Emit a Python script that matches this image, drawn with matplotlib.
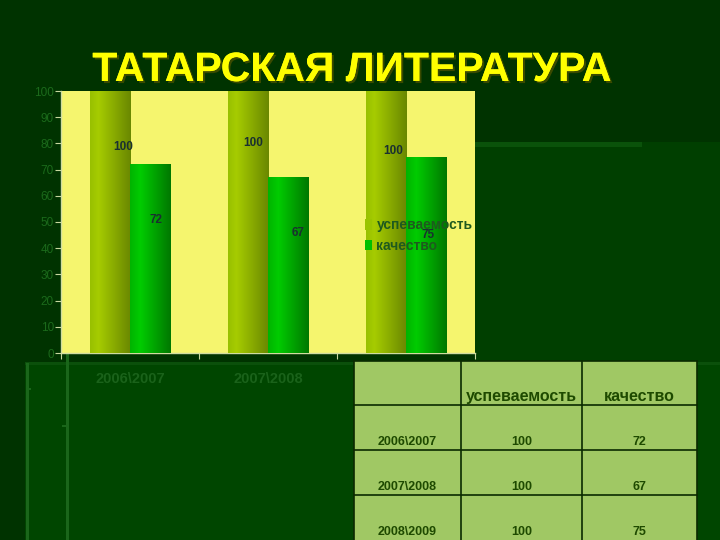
import numpy as np
import matplotlib
matplotlib.use("Agg")
import matplotlib.pyplot as plt
from matplotlib.patches import Rectangle
from matplotlib.colors import LinearSegmentedColormap
import matplotlib.patheffects as pe

# ---------------- data ----------------
title = "ТАТАРСКАЯ ЛИТЕРАТУРА"
categories = ["2006\\2007", "2007\\2008", "2008\\2009"]
series_names = ["успеваемость", "качество"]
uspev = [100, 100, 100]
kach = [72, 67, 75]
yticks = [0, 10, 20, 30, 40, 50, 60, 70, 80, 90, 100]

# ---------------- layout / style ----------------
W, H = 720, 540
DPI = 100
BG_TOP = "#003300"
BG_LOW = "#004600"
BG_RIGHT = "#003f00"
PLOT_BG = "#f5f56e"
TICK_COL = "#1b6a1b"
LABEL_COL = "#1a3030"
font = ["Liberation Sans", "DejaVu Sans"]

# data-label placement (y in data units, x offset in category units)
lab_u_y = [78.6, 80.2, 77.1]
lab_k_y = [50.8, 45.8, 45.0]
lab_u_dx = [-0.05, -0.11, -0.095]
lab_k_dx = [0.185, 0.217, 0.163]

fig = plt.figure(figsize=(W / DPI, H / DPI), dpi=DPI)
fig.patch.set_facecolor(BG_TOP)


def px_rect(x0, y0, x1, y1, color, z=-5):
    fig.patches.append(Rectangle((x0 / W, 1 - y1 / H), (x1 - x0) / W, (y1 - y0) / H,
                                 transform=fig.transFigure, facecolor=color,
                                 edgecolor="none", zorder=z))


# slide background pieces
px_rect(475, 142, 720, 540, BG_RIGHT)
px_rect(475, 142, 642, 147, "#0a520a")
px_rect(25, 362, 720, 540, BG_LOW)
px_rect(25, 362, 720, 365, "#0b500b")
px_rect(26, 363, 29, 540, "#1a661a")
px_rect(66, 353, 69, 540, "#1a661a")
px_rect(26, 388, 31, 390, "#1a661a")
px_rect(62, 425, 69, 427, "#1a661a")

# title
fig.text(352 / W, 1 - 81 / H, title, fontsize=29.5, fontweight="bold", color="#ffff00",
         ha="center", va="baseline", family=font,
         path_effects=[pe.withSimplePatchShadow(offset=(1.5, -1.5), shadow_rgbFace="#3a4a00", alpha=1.0),
                       pe.Normal()])

# ---------------- chart ----------------
ax = fig.add_axes([61 / W, 1 - 353 / H, 414 / W, 262 / H])
ax.set_facecolor(PLOT_BG)

x = np.arange(len(categories))
bw = 0.29
b1 = ax.bar(x - bw / 2, uspev, width=bw, color="#9ac400", zorder=2, label=series_names[0])
b2 = ax.bar(x + bw / 2, kach, width=bw, color="#00c000", zorder=2, label=series_names[1])

cm_u = LinearSegmentedColormap.from_list("u", [(0, "#98c000"), (0.2, "#a6cc00"), (1, "#6a8800")])
cm_k = LinearSegmentedColormap.from_list("k", [(0, "#00b400"), (0.25, "#00cc00"), (1, "#007800")])
grad = np.linspace(0, 1, 64).reshape(1, -1)
for bars, cm in ((b1, cm_u), (b2, cm_k)):
    for r in bars:
        x0, y0 = r.get_x(), r.get_y()
        im = ax.imshow(grad, cmap=cm, aspect="auto", zorder=3,
                       extent=(x0, x0 + r.get_width(), y0, y0 + r.get_height()))
        im.set_clip_path(r)
ax.set_xlim(-0.5, 2.5)
ax.set_ylim(0, 100)

for i in range(len(categories)):
    ax.text(x[i] + lab_u_dx[i], lab_u_y[i], str(uspev[i]),
            ha="center", va="center", fontsize=8.5, fontweight="bold", color=LABEL_COL,
            family=font, zorder=5)
    ax.text(x[i] + lab_k_dx[i], lab_k_y[i], str(kach[i]),
            ha="center", va="center", fontsize=8.5, fontweight="bold", color=LABEL_COL,
            family=font, zorder=5)

ax.set_yticks(yticks)
ax.set_yticklabels([str(v) for v in yticks], fontsize=8.5, color=TICK_COL, family=font)
ax.tick_params(axis="y", length=4, width=0.8, color="#c8d8a0", pad=1)
ax.set_xticks(x)
ax.set_xticklabels(categories, fontsize=10.5, fontweight="bold", color="#1a621a", family=font)
ax.tick_params(axis="x", length=0, pad=14)
ax.set_xticks([-0.5, 0.5, 1.5, 2.5], minor=True)
ax.tick_params(axis="x", which="minor", length=4, width=0.8, color="#c8d8a0", direction="out")
for s in ("top", "right"):
    ax.spines[s].set_visible(False)
for s in ("left", "bottom"):
    ax.spines[s].set_color("#d0dca0")
    ax.spines[s].set_linewidth(1.0)

leg = ax.legend(loc="upper left", bbox_to_anchor=(0.72, 0.535), frameon=False,
                handlelength=0.55, handleheight=0.75, handletextpad=0.3, labelspacing=0.45,
                borderaxespad=0, prop={"family": font, "size": 10, "weight": "bold"})
for t in leg.get_texts():
    t.set_color("#1e5a1e")
leg.set_zorder(6)

# ---------------- table ----------------
tx0, tx1, ty0, ty1 = 354, 697, 361, 540
tab = fig.add_axes([tx0 / W, 1 - ty1 / H, (tx1 - tx0) / W, (ty1 - ty0) / H])
tab.set_zorder(10)
tab.set_xlim(tx0, tx1)
tab.set_ylim(ty1, ty0)
tab.axis("off")
col_edges = [354, 461, 582, 697]
row_edges = [361, 405, 450, 495, 540]
TAB_FILL = "#a0c864"
TXT = "#1e4a00"
tab.add_patch(Rectangle((tx0, ty0), tx1 - tx0, ty1 - ty0, facecolor=TAB_FILL,
                        edgecolor="none", zorder=1))
for cx in col_edges:
    tab.plot([cx, cx], [ty0, ty1], color="#0a2a00", lw=1.2, zorder=2, clip_on=False)
for ry in row_edges[:-1]:
    tab.plot([tx0, tx1], [ry, ry], color="#0a2a00", lw=1.2, zorder=2, clip_on=False)

for j, name in enumerate(series_names):
    cx = (col_edges[j + 1] + col_edges[j + 2]) / 2
    tab.text(cx, row_edges[1] - 4, name, ha="center", va="baseline", fontsize=11.5,
             fontweight="bold", color=TXT, family=font, zorder=3)
for i, cat in enumerate(categories):
    yb = row_edges[i + 2] - 5
    vals = [cat, str(uspev[i]), str(kach[i])]
    for j, v in enumerate(vals):
        cx = (col_edges[j] + col_edges[j + 1]) / 2
        tab.text(cx, yb, v, ha="center", va="baseline", fontsize=9,
                 fontweight="bold", color=TXT, family=font, zorder=3)

fig.savefig("out.png", dpi=DPI, facecolor=fig.get_facecolor())
